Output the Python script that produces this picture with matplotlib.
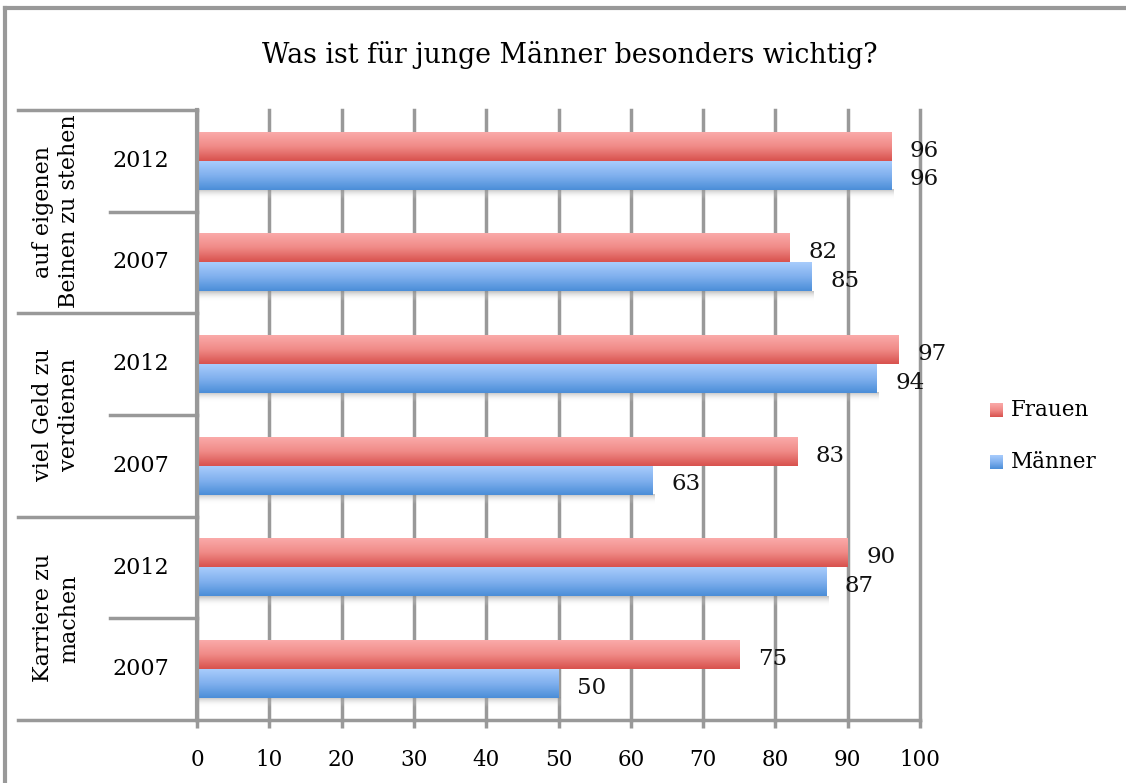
import numpy as np
import matplotlib
matplotlib.use("Agg")
import matplotlib.pyplot as plt
from matplotlib.colors import LinearSegmentedColormap
from matplotlib.lines import Line2D

# ---- data ----
groups = ["Karriere zu\nmachen", "viel Geld zu\nverdienen", "auf eigenen\nBeinen zu stehen"]
years = ["2007", "2012"]
frauen = [75, 90, 83, 97, 82, 96]   # rows bottom -> top
maenner = [50, 87, 63, 94, 85, 96]
series_names = ["Frauen", "Männer"]
xticks = [0, 10, 20, 30, 40, 50, 60, 70, 80, 90, 100]
title = "Was ist für junge Männer besonders wichtig?"

FONT = "DejaVu Serif"
plt.rcParams['font.family'] = [FONT]

W, H = 1126, 783
fig = plt.figure(figsize=(W / 100, H / 100), dpi=100)
L, R, T, B = 197, 920, 110, 720
ax = fig.add_axes([L / W, 1 - B / H, (R - L) / W, (B - T) / H])

red_cmap = LinearSegmentedColormap.from_list("r", ["#FAAAA9", "#F08A87", "#D8524E"])
blue_cmap = LinearSegmentedColormap.from_list("b", ["#A8CCFC", "#80B0EE", "#4B8ED8"])
shadow_cmap = LinearSegmentedColormap.from_list("s", [(0.55, 0.55, 0.55, 0.55), (1, 1, 1, 0.0)])
grad = np.linspace(0, 1, 64).reshape(-1, 1)

n = len(frauen)
rows = np.arange(n)
bh = 0.285
grid_c = "#999999"

for v in xticks:
    ax.axvline(v, color=grid_c, lw=2.5, zorder=0, clip_on=False)

for i in rows:
    ax.imshow(grad, extent=[0.3, maenner[i] + 0.3, i - bh - 0.09, i - bh], aspect='auto',
              cmap=shadow_cmap, zorder=1, interpolation='bilinear')
    ax.imshow(grad, extent=[0, frauen[i], i, i + bh], aspect='auto', cmap=red_cmap,
              zorder=2, interpolation='bilinear')
    ax.imshow(grad, extent=[0, maenner[i], i - bh, i], aspect='auto', cmap=blue_cmap,
              zorder=2, interpolation='bilinear')
    ax.annotate(str(frauen[i]), (frauen[i], i + bh / 2), xytext=(13.5, -3), textcoords='offset points',
                ha='left', va='center', fontsize=16.5, color='#111111')
    ax.annotate(str(maenner[i]), (maenner[i], i - bh / 2), xytext=(13.5, -3), textcoords='offset points',
                ha='left', va='center', fontsize=16.5, color='#111111')

ax.set_xlim(0, 100)
ax.set_ylim(-0.5, n - 0.5)
ax.set_xticks(xticks)
ax.set_xticklabels([str(t) for t in xticks], fontsize=15.5)
ax.set_yticks([])
ax.tick_params(axis='x', length=6, width=2.5, color=grid_c, pad=15)
for s in ['top', 'right']:
    ax.spines[s].set_visible(False)
ax.spines['left'].set_color(grid_c)
ax.spines['left'].set_linewidth(3)
ax.spines['bottom'].set_color(grid_c)
ax.spines['bottom'].set_linewidth(2.5)

# category label area
tr = ax.get_yaxis_transform()
x_outer = (18 - L) / (R - L)
x_inner = (110 - L) / (R - L)
for g in range(len(groups) + 1):
    yb = g * 2 - 0.5
    ax.add_line(Line2D([x_outer, 0], [yb, yb], transform=tr, color=grid_c, lw=2.5, clip_on=False))
for g in range(len(groups)):
    ym = g * 2 + 0.5
    ax.add_line(Line2D([x_inner, 0], [ym, ym], transform=tr, color=grid_c, lw=2.5, clip_on=False))
    ax.text((56 - L) / (R - L), g * 2 + 0.5, groups[g], transform=tr, rotation=90,
            ha='center', va='center', fontsize=16, linespacing=1.25, multialignment='center')
for i in rows:
    ax.text((141 - L) / (R - L), i, years[i % 2], transform=tr, ha='center', va='center', fontsize=16)

# title
fig.text(570 / W, 1 - 55 / H, title, ha='center', va='center', fontsize=19.3)

# legend
cmaps = [red_cmap, blue_cmap]
for k, name in enumerate(series_names):
    yc = [410, 462][k]
    lax = fig.add_axes([990 / W, 1 - (yc + 7) / H, 13 / W, 14 / H])
    lax.imshow(grad, aspect='auto', cmap=cmaps[k], interpolation='bilinear')
    lax.axis('off')
    fig.text(1011 / W, 1 - yc / H, name, ha='left', va='center', fontsize=15.5)

# outer frame (left and top edges visible)
fig.add_artist(Line2D([5 / W, 5 / W], [0, 1 - 8 / H], transform=fig.transFigure, color=grid_c, lw=3))
fig.add_artist(Line2D([5 / W, 1], [1 - 8 / H, 1 - 8 / H], transform=fig.transFigure, color=grid_c, lw=3))

fig.savefig("out.png", dpi=100)
